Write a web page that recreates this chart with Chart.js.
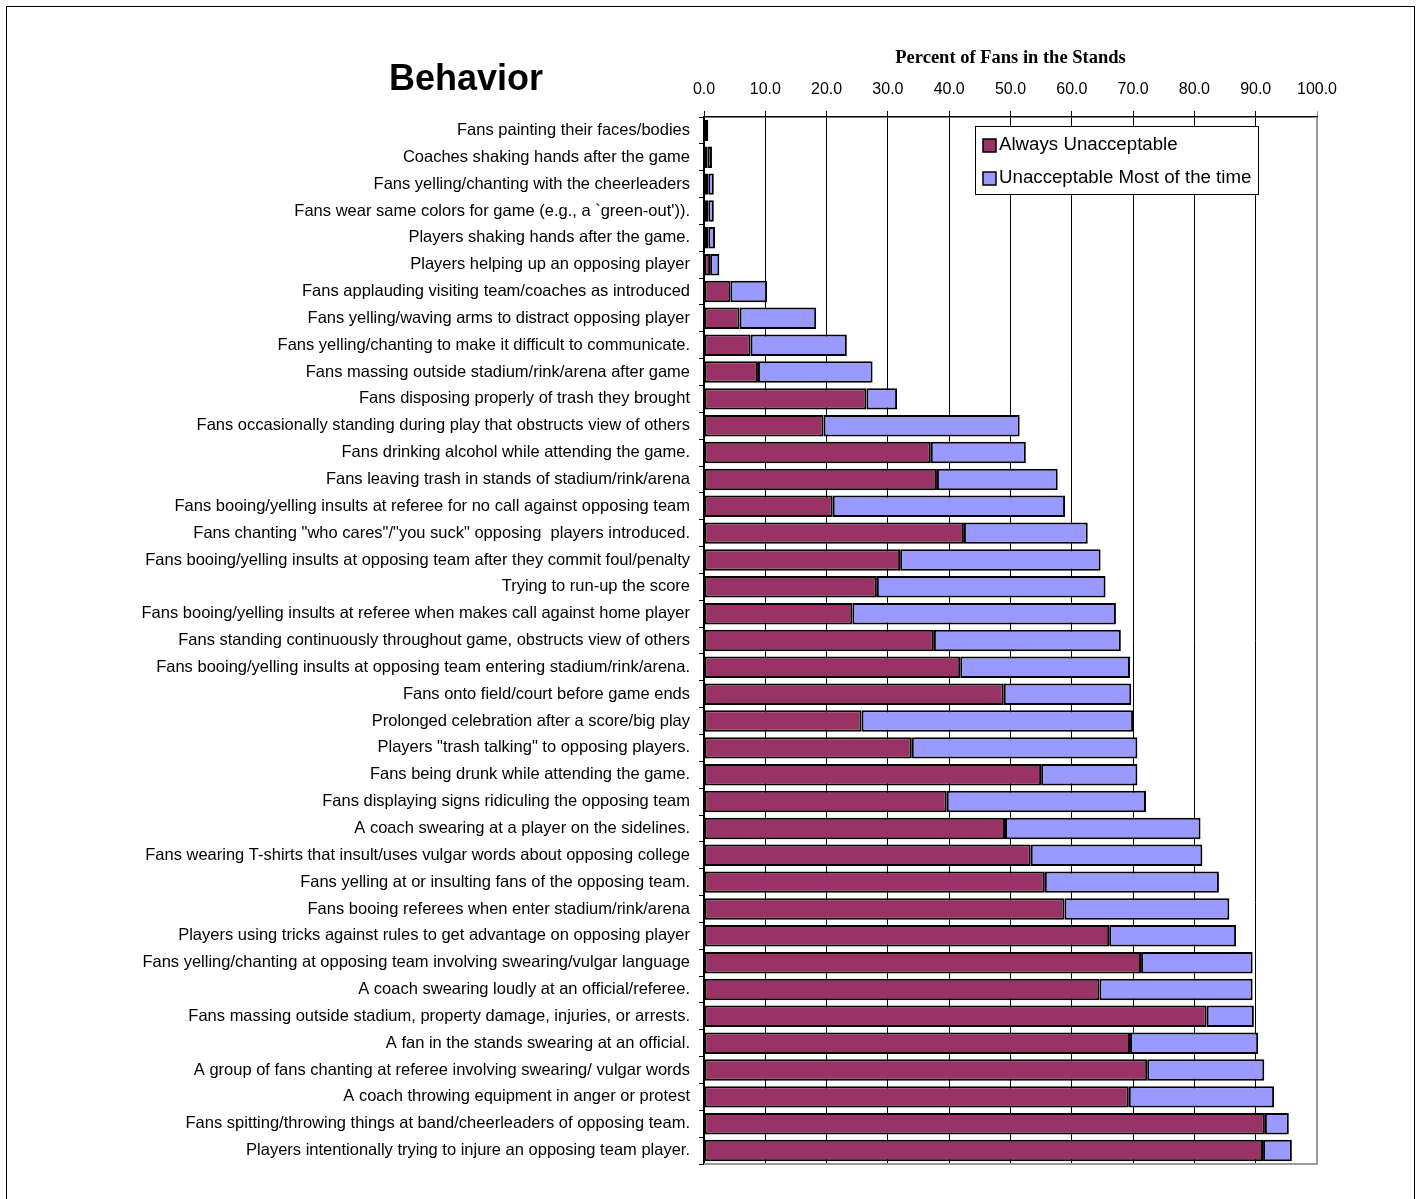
<!DOCTYPE html>
<html>
<head>
<meta charset="utf-8">
<script src="https://cdn.jsdelivr.net/npm/chart.js@4/dist/chart.umd.min.js"></script>
<style>
  html, body { margin: 0; padding: 0; background: #fff; overflow: hidden; }
  #wrap { position: relative; width: 1419px; height: 1199px; }
  #frame { position: absolute; left: 6px; top: 6px; width: 1409px; height: 1200px; border: 1px solid #000; box-sizing: border-box; pointer-events: none; }
  canvas { position: absolute; left: 0; top: 0; }
</style>
</head>
<body>
<div id="wrap">
  <canvas id="c" width="1419" height="1199"></canvas>
  <div id="frame"></div>
</div>
<script>
const chartTitle = "Behavior";
const axisTitle = "Percent of Fans in the Stands";
const seriesNames = ["Always Unacceptable", "Unacceptable Most of the time"];
const seriesColors = ["#993366", "#9999FF"];

const categories = [
  "Fans painting their faces/bodies",
  "Coaches shaking hands after the game",
  "Fans yelling/chanting with the cheerleaders",
  "Fans wear same colors for game (e.g., a `green-out')).",
  "Players shaking hands after the game.",
  "Players helping up an opposing player",
  "Fans applauding visiting team/coaches as introduced",
  "Fans yelling/waving arms to distract opposing player",
  "Fans yelling/chanting to make it difficult to communicate.",
  "Fans massing outside stadium/rink/arena after game",
  "Fans disposing properly of trash they brought",
  "Fans occasionally standing during play that obstructs view of others",
  "Fans drinking alcohol while attending the game.",
  "Fans leaving trash in stands of stadium/rink/arena",
  "Fans booing/yelling insults at referee for no call against opposing team",
  "Fans chanting \"who cares\"/\"you suck\" opposing  players introduced.",
  "Fans booing/yelling insults at opposing team after they commit foul/penalty",
  "Trying to run-up the score",
  "Fans booing/yelling insults at referee when makes call against home player",
  "Fans standing continuously throughout game, obstructs view of others",
  "Fans booing/yelling insults at opposing team entering stadium/rink/arena.",
  "Fans onto field/court before game ends",
  "Prolonged celebration after a score/big play",
  "Players \"trash talking\" to opposing players.",
  "Fans being drunk while attending the game.",
  "Fans displaying signs ridiculing the opposing team",
  "A coach swearing at a player on the sidelines.",
  "Fans wearing T-shirts that insult/uses vulgar words about opposing college",
  "Fans yelling at or insulting fans of the opposing team.",
  "Fans booing referees when enter stadium/rink/arena",
  "Players using tricks against rules to get advantage on opposing player",
  "Fans yelling/chanting at opposing team involving swearing/vulgar language",
  "A coach swearing loudly at an official/referee.",
  "Fans massing outside stadium, property damage, injuries, or arrests.",
  "A fan in the stands swearing at an official.",
  "A group of fans chanting at referee involving swearing/ vulgar words",
  "A coach throwing equipment in anger or protest",
  "Fans spitting/throwing things at band/cheerleaders of opposing team.",
  "Players intentionally trying to injure an opposing team player."
];

const alwaysUnacceptable = [
  0.7, 0.6, 0.7, 0.7, 0.7, 1.0, 4.3, 5.8, 7.6, 8.8,
  26.5, 19.5, 37.0, 38.0, 21.0, 42.4, 32.0, 28.2, 24.2, 37.5,
  41.8, 48.9, 25.7, 33.9, 55.0, 39.6, 49.1, 53.3, 55.6, 58.8,
  66.1, 71.3, 64.5, 82.0, 69.5, 72.3, 69.3, 91.5, 91.2
];
const mostOfTheTime = [
  0.0, 0.7, 0.9, 0.9, 1.1, 1.5, 6.0, 12.5, 15.7, 18.7,
  5.0, 32.0, 15.5, 19.7, 37.9, 20.2, 32.7, 37.3, 43.0, 30.5,
  27.7, 20.8, 44.3, 36.8, 15.7, 32.5, 31.9, 28.0, 28.4, 26.9,
  20.7, 18.2, 25.0, 7.7, 20.9, 19.1, 23.7, 3.9, 4.7
];
const xTicks = { min: 0, max: 100, step: 10 };

const sansFont = "'Liberation Sans', Arial, sans-serif";
const serifFont = "'Liberation Serif', 'Times New Roman', serif";

const decorPlugin = {
  id: 'decor',
  afterDraw(chart) {
    const ctx = chart.ctx;
    const a = chart.chartArea;
    ctx.save();
    // plot area right/bottom border (gray)
    ctx.strokeStyle = '#9a9a9a';
    ctx.lineWidth = 2;
    ctx.beginPath();
    ctx.moveTo(a.right, a.top);
    ctx.lineTo(a.right, a.bottom);
    ctx.lineTo(a.left, a.bottom);
    ctx.stroke();
    // chart title
    ctx.fillStyle = '#000';
    ctx.font = "bold 36px " + sansFont;
    ctx.textAlign = 'center';
    ctx.textBaseline = 'alphabetic';
    ctx.fillText(chartTitle, 466, 90);
    // legend
    const lx = 975.5, ly = 126.5, lw = 283, lh = 68;
    ctx.fillStyle = '#fff';
    ctx.fillRect(lx, ly, lw, lh);
    ctx.strokeStyle = '#000';
    ctx.lineWidth = 1;
    ctx.strokeRect(lx, ly, lw, lh);
    ctx.font = "18.7px " + sansFont;
    ctx.textAlign = 'left';
    chart.data.datasets.forEach((ds, i) => {
      const cy = 145 + i * 33;
      ctx.fillStyle = ds.backgroundColor;
      ctx.fillRect(983, cy - 6, 13, 13);
      ctx.strokeStyle = '#000';
      ctx.lineWidth = 1.5;
      ctx.strokeRect(983, cy - 6, 13, 13);
      ctx.fillStyle = '#000';
      ctx.fillText(ds.label, 999, cy + 5);
    });
    ctx.restore();
  }
};

new Chart(document.getElementById('c'), {
  type: 'bar',
  data: {
    labels: categories,
    datasets: [
      { label: seriesNames[0], data: alwaysUnacceptable, backgroundColor: seriesColors[0] },
      { label: seriesNames[1], data: mostOfTheTime, backgroundColor: seriesColors[1] }
    ]
  },
  options: {
    indexAxis: 'y',
    responsive: false,
    animation: false,
    devicePixelRatio: 1,
    datasets: {
      bar: {
        borderColor: '#000',
        borderWidth: 2,
        borderSkipped: false,
        barPercentage: 0.8,
        categoryPercentage: 1.0
      }
    },
    layout: { padding: { left: 10, right: 102, top: 42, bottom: 35 } },
    plugins: { legend: { display: false }, tooltip: { enabled: false } },
    scales: {
      x: {
        position: 'top',
        stacked: true,
        min: xTicks.min,
        max: xTicks.max,
        afterFit(scale) { scale.height = 75; },
        title: {
          display: true,
          text: axisTitle,
          color: '#000',
          font: { family: serifFont, size: 18.5, weight: 'bold' },
          padding: { top: 5, bottom: 4 }
        },
        ticks: {
          stepSize: xTicks.step,
          color: '#000',
          font: { family: sansFont, size: 16 },
          padding: 12,
          maxRotation: 0,
          callback: (v) => Number(v).toFixed(1)
        },
        grid: {
          color: (c) => (c.tick && c.tick.value === xTicks.max) ? '#9a9a9a' : '#000',
          lineWidth: 1,
          tickLength: 6,
          drawTicks: true
        },
        border: { display: true, color: '#000', width: 1.5 }
      },
      y: {
        stacked: true,
        afterFit(scale) { scale.width = 694; },
        ticks: {
          color: '#000',
          font: { family: sansFont, size: 16.5 },
          padding: 9,
          autoSkip: false
        },
        grid: {
          offset: true,
          drawOnChartArea: false,
          drawTicks: true,
          tickLength: 5,
          color: '#000'
        },
        border: { display: true, color: '#000', width: 1.5 }
      }
    }
  },
  plugins: [decorPlugin]
});
</script>
</body>
</html>
